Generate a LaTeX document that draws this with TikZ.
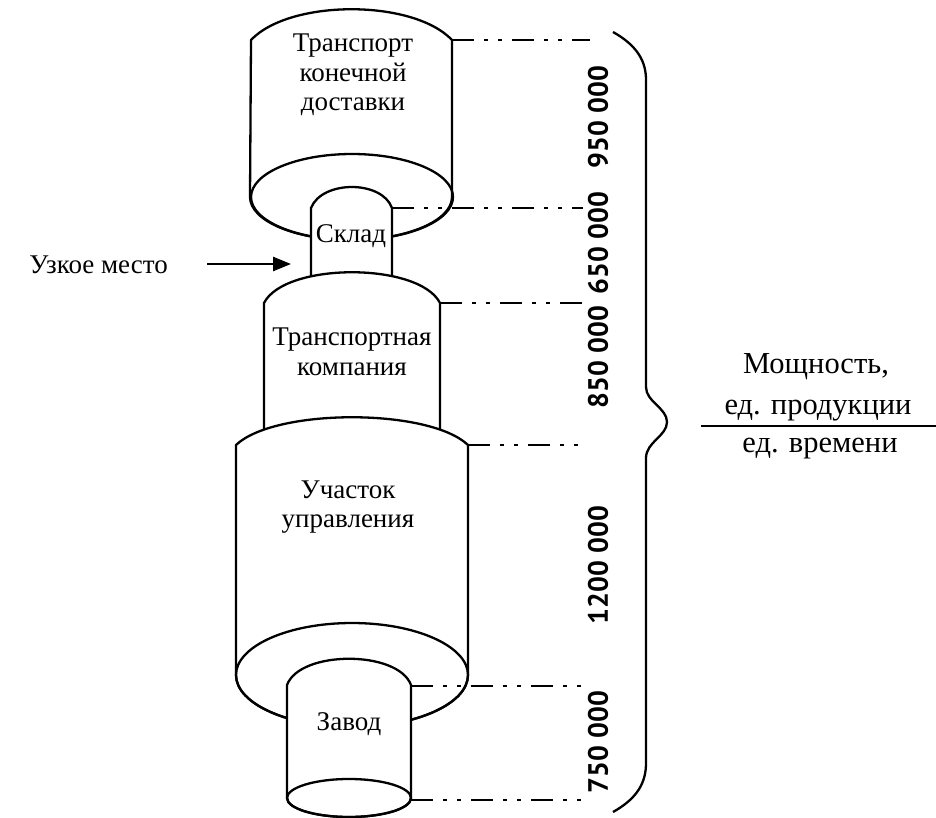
\documentclass[tikz,border=0pt]{standalone}
\usepackage{fontspec}
\setmainfont{Liberation Serif}
\newfontfamily\numfont{PT Sans}
\usetikzlibrary{arrows.meta}

\begin{document}
\begin{tikzpicture}[x=1pt,y=-1pt,
  outline/.style={line width=2.3pt, line join=round},
  capline/.style={line width=2.8pt, dash pattern=on 22pt off 10pt on 4pt off 10pt on 4pt off 10pt},
  lbl/.style={font=\fontsize{27}{29.5}\selectfont, align=center, inner sep=0pt},
  unitlbl/.style={font=\fontsize{30.5}{33}\selectfont, inner sep=0pt, anchor=base},
  num/.style={font=\numfont\bfseries\fontsize{28}{30}\selectfont, rotate=90, inner sep=0pt},
  pointer/.style={line width=2.6pt, -{Triangle[length=18pt,width=14pt]}},
]
\useasboundingbox (0,0) rectangle (936,818);

% --- final-delivery transport (top cylinder) ---
\coordinate (tA) at (251,40);
\coordinate (tB) at (452,40);
\filldraw[outline, fill=white] (tA) .. controls (290,-1) and (413,-1) .. (tB)
  -- (452,197) arc[start angle=0, end angle=-180, x radius=101pt, y radius=43pt] -- cycle;
\draw[outline] (352,197) ellipse [x radius=101pt, y radius=43pt];

% --- warehouse ---
\coordinate (sA) at (311,208);
\coordinate (sB) at (392,208);
\filldraw[outline, fill=white] (311,295) -- (sA) .. controls (322,180) and (382,180) .. (sB) -- (392,295);

% --- transport company ---
\coordinate (kA) at (264,303);
\coordinate (kB) at (440,303);
\filldraw[outline, fill=white] (264,470) -- (kA) .. controls (285,262) and (419,262) .. (kB) -- (440,470);

% --- control section ---
\coordinate (uA) at (236,445);
\coordinate (uB) at (468,445);
\filldraw[outline, fill=white] (uA) .. controls (275,408) and (429,408) .. (uB)
  -- (468,675) arc[start angle=0, end angle=-180, x radius=116pt, y radius=52pt] -- cycle;
\draw[outline] (352,675) ellipse [x radius=116pt, y radius=52pt];

% --- plant ---
\coordinate (zA) at (287,685);
\coordinate (zB) at (411,685);
\coordinate (zC) at (411,798);
\filldraw[outline, fill=white] (zA) .. controls (300,650) and (398,650) .. (zB)
  -- (zC) arc[start angle=0, end angle=-180, x radius=62pt, y radius=19pt] -- cycle;
\draw[outline] (349,798) ellipse [x radius=62pt, y radius=19pt];

% --- labels inside the stages ---
\node[lbl] (tkd) at (353,75) {Транспорт\\конечной\\доставки};
\node[lbl, anchor=base] (skl) at (351,243) {Склад};
\node[lbl] (tk) at (352,352) {Транспортная\\компания};
\node[lbl] (uch) at (348,507) {Участок\\управления};
\node[lbl, anchor=base] (zav) at (349,730) {Завод};

% --- bottleneck pointer ---
\node[lbl, anchor=base east] (uzk) at (168,273) {Узкое место};
\coordinate (pT) at (207,264);
\coordinate (pH) at (291,264);
\draw[pointer] (pT) -- (pH);

% --- level lines ---
\coordinate (e1) at (590,40);
\coordinate (e2) at (583,208);
\coordinate (e3) at (586,303);
\coordinate (e4) at (582,445);
\coordinate (e5) at (586,686);
\coordinate (e6) at (586,800);
\draw[capline] (tB) -- (e1);
\draw[capline] (sB) -- (e2);
\draw[capline] (kB) -- (e3);
\draw[capline] (uB) -- (e4);
\draw[capline] (411,686) -- (e5);
\draw[capline] (411,800) -- (e6);

% --- capacities ---
\node[num] (n1) at (598,117) {950 000};
\node[num] (n2) at (598,243) {650 000};
\node[num] (n3) at (598,357) {850 000};
\node[num] (n4) at (598,565) {1200 000};
\node[num] (n5) at (598,742) {750 000};

% --- brace ---
\draw[outline] (613,32) .. controls (638,46) and (646,62) .. (646,80) -- (646,387)
  .. controls (646,402) and (667,408) .. (667,422)
  .. controls (667,436) and (646,442) .. (646,458) -- (646,763)
  .. controls (646,782) and (638,798) .. (613,812);

% --- unit label ---
\node[unitlbl] (mosh) at (816,373) {Мощность,};
\node[unitlbl] (edp) at (818,414) {ед. продукции};
\node[unitlbl] (edv) at (820,452) {ед. времени};
\coordinate (fL) at (701,426);
\coordinate (fR) at (936,426);
\draw[line width=2.6pt] (fL) -- (fR);
\end{tikzpicture}
\end{document}
